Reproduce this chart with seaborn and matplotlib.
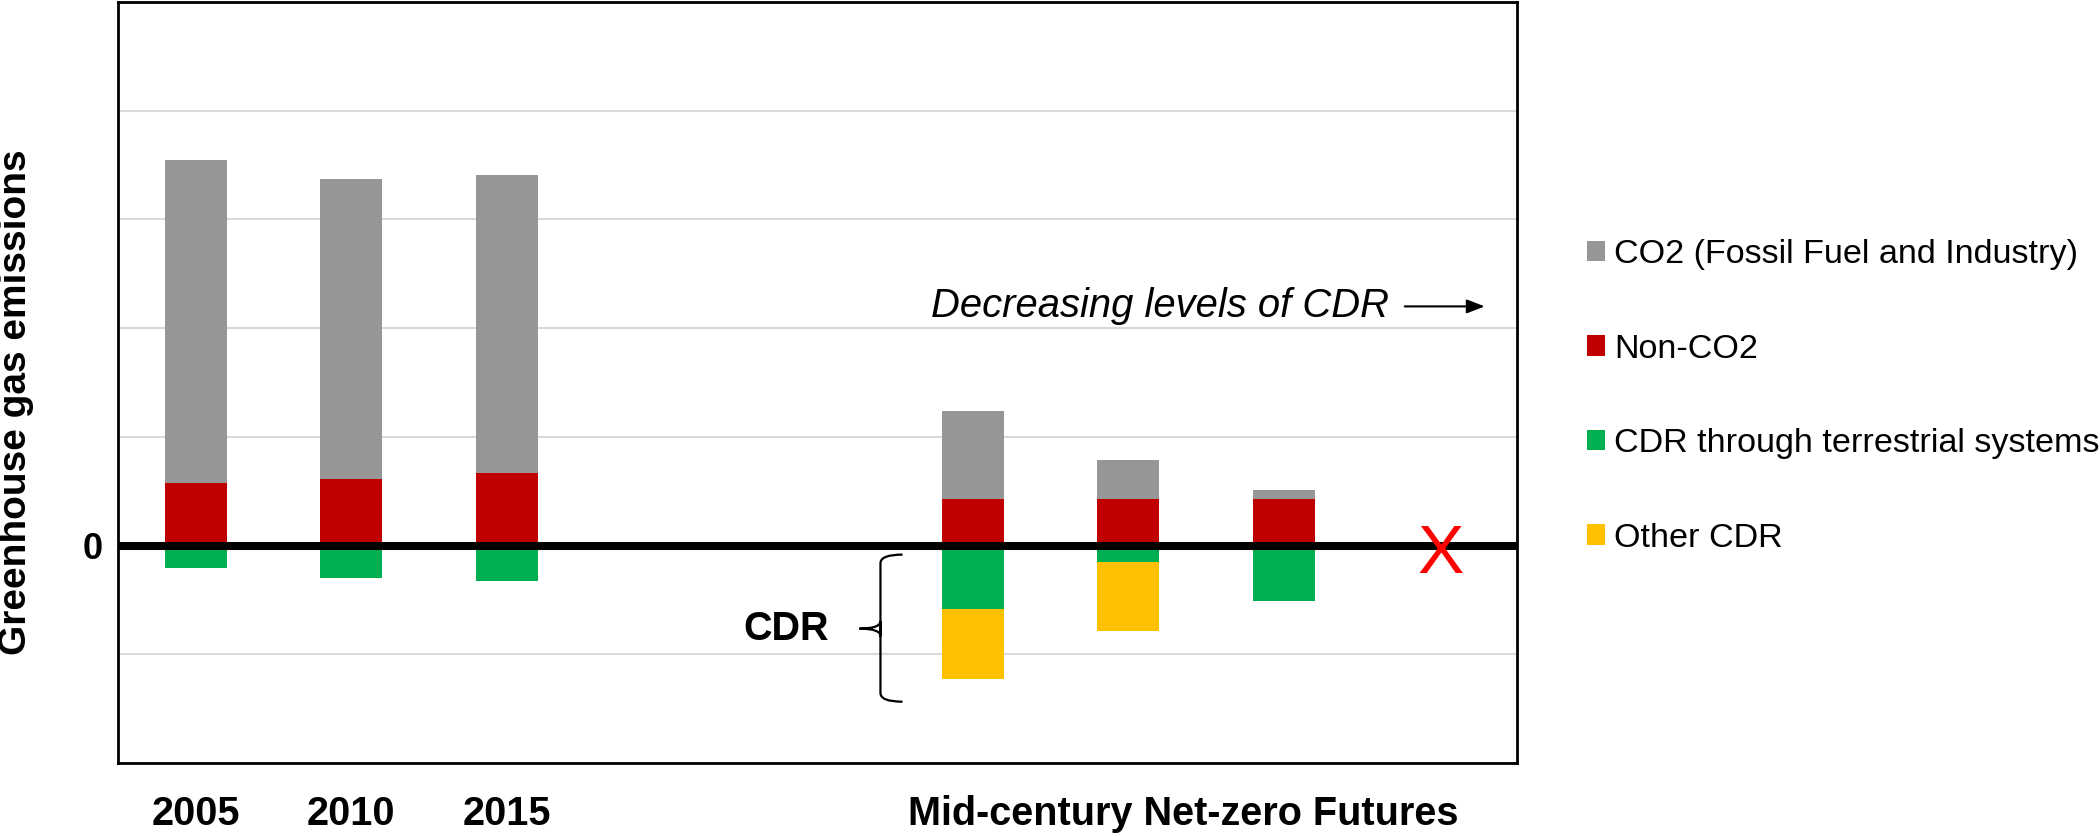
import matplotlib
matplotlib.use("Agg")
import matplotlib.pyplot as plt
from matplotlib.patches import Patch, PathPatch
from matplotlib.path import Path
import seaborn as sns
import pandas as pd

# ---------------- data ----------------
slots = ["2005", "2010", "2015", "gap1", "gap2", "Net-zero A", "Net-zero B", "Net-zero C", "Net-zero D"]
scenarios = ["2005", "2010", "2015", "Net-zero A", "Net-zero B", "Net-zero C"]
co2_fossil = [2.97, 2.76, 2.74, 0.81, 0.36, 0.08]
non_co2 = [0.58, 0.61, 0.67, 0.43, 0.43, 0.43]
cdr_terrestrial = [-0.21, -0.30, -0.33, -0.58, -0.15, -0.51]
other_cdr = [0.0, 0.0, 0.0, -0.65, -0.64, 0.0]
series_names = ["CO2 (Fossil Fuel and Industry)", "Non-CO2", "CDR through terrestrial systems", "Other CDR"]
x_tick_labels = ["2005", "2010", "2015", "Mid-century Net-zero Futures"]
y_label = "Greenhouse gas emissions"
annotation_text = "Decreasing levels of CDR"
brace_text = "CDR"

colors = {"CO2 (Fossil Fuel and Industry)": "#969696", "Non-CO2": "#C00000",
          "CDR through terrestrial systems": "#00B050", "Other CDR": "#FFC000"}

df = pd.DataFrame({"scenario": scenarios,
                   "pos_total": [a + b for a, b in zip(co2_fossil, non_co2)],
                   "non_co2": non_co2,
                   "neg_total": [a + b for a, b in zip(cdr_terrestrial, other_cdr)],
                   "cdr_terr": cdr_terrestrial})

# ---------------- style ----------------
sns.set_theme(style="white")
plt.rcParams["font.family"] = ["Liberation Sans", "DejaVu Sans"]
plt.rcParams["text.color"] = "black"
plt.rcParams["axes.labelcolor"] = "black"
plt.rcParams["xtick.color"] = "black"
plt.rcParams["ytick.color"] = "black"

fig = plt.figure(figsize=(21, 8.36), dpi=100)
ax = fig.add_axes([118 / 2100, 1 - 763 / 836, 1399 / 2100, 761 / 836])

bar_kw = dict(order=slots, width=0.4, saturation=1, linewidth=0, errorbar=None, ax=ax)
sns.barplot(data=df, x="scenario", y="pos_total", color=colors[series_names[0]], **bar_kw)
sns.barplot(data=df, x="scenario", y="non_co2", color=colors[series_names[1]], **bar_kw)
sns.barplot(data=df, x="scenario", y="neg_total", color=colors[series_names[3]], **bar_kw)
sns.barplot(data=df, x="scenario", y="cdr_terr", color=colors[series_names[2]], **bar_kw)

ax.set_xlim(-0.5, 8.5)
ax.set_ylim(-2, 5)
ax.set_yticks(range(-2, 6))
ax.set_yticklabels(["" if v != 0 else "0" for v in range(-2, 6)], fontsize=26, fontweight="bold")
ax.yaxis.grid(True, color="#D9D9D9", linewidth=1.5)
ax.set_axisbelow(True)
ax.tick_params(axis="y", length=0, pad=11, labelcolor="black")
ax.set_xticks([0, 1, 2, 6.35])
ax.set_xticklabels(x_tick_labels, fontsize=28.5, fontweight="bold")
ax.tick_params(axis="x", length=0, pad=23, labelcolor="black")
ax.set_xlabel("")
ax.set_ylabel("")
for s in ax.spines.values():
    s.set_color("black")
    s.set_linewidth(2)

ax.axhline(0, color="black", linewidth=5.8, zorder=3)

# red X marking the no-CDR future
ax.text(8.01, -0.25, "X", color="#FF0000", fontsize=50, ha="center", va="baseline", zorder=4)

# annotation with arrow
ax.text(4.73, 2.10, annotation_text, fontsize=28.8, style="italic", ha="left", va="baseline",
        color="black")
ax.annotate("", xy=(8.31, 2.20), xytext=(7.76, 2.20),
            arrowprops=dict(arrowstyle="-|>,head_length=0.9,head_width=0.35", color="black", lw=1.5))

# curly brace and CDR label
bx, bxr, btip = 4.405, 4.547, 4.27
ytop, ymid, ybot = -0.083, -0.764, -1.436
verts = [(bxr, ytop), (bx, ytop), (bx, ytop - 0.08),
         (bx, ymid - 0.07),
         (bx, ymid), (btip, ymid),
         (bx, ymid), (bx, ymid + 0.07),
         (bx, ybot + 0.08),
         (bx, ybot), (bxr, ybot)]
codes = [Path.MOVETO, Path.CURVE3, Path.CURVE3,
         Path.LINETO,
         Path.CURVE3, Path.CURVE3,
         Path.CURVE3, Path.CURVE3,
         Path.LINETO,
         Path.CURVE3, Path.CURVE3]
ax.add_patch(PathPatch(Path(verts, codes), fill=False, edgecolor="black", linewidth=1.6, zorder=4))
ax.text(3.80, -0.764, brace_text, fontsize=28.5, fontweight="bold", ha="center", va="center",
        color="black")

# y label
fig.text(16 / 2100, 1 - 402 / 836, y_label, rotation=90, fontsize=28, fontweight="bold",
         ha="center", va="center", color="black")

# legend
handles = [Patch(facecolor=colors[n], edgecolor="none") for n in series_names]
leg = fig.legend(handles, series_names, loc="upper left", bbox_to_anchor=(1587 / 2100, 1 - 239 / 836),
                 frameon=False, fontsize=24.6, borderpad=0, borderaxespad=0, labelspacing=1.86,
                 handlelength=0.53, handleheight=0.53, handletextpad=0.26)
for t in leg.get_texts():
    t.set_color("black")

fig.savefig("out.png", dpi=100)
